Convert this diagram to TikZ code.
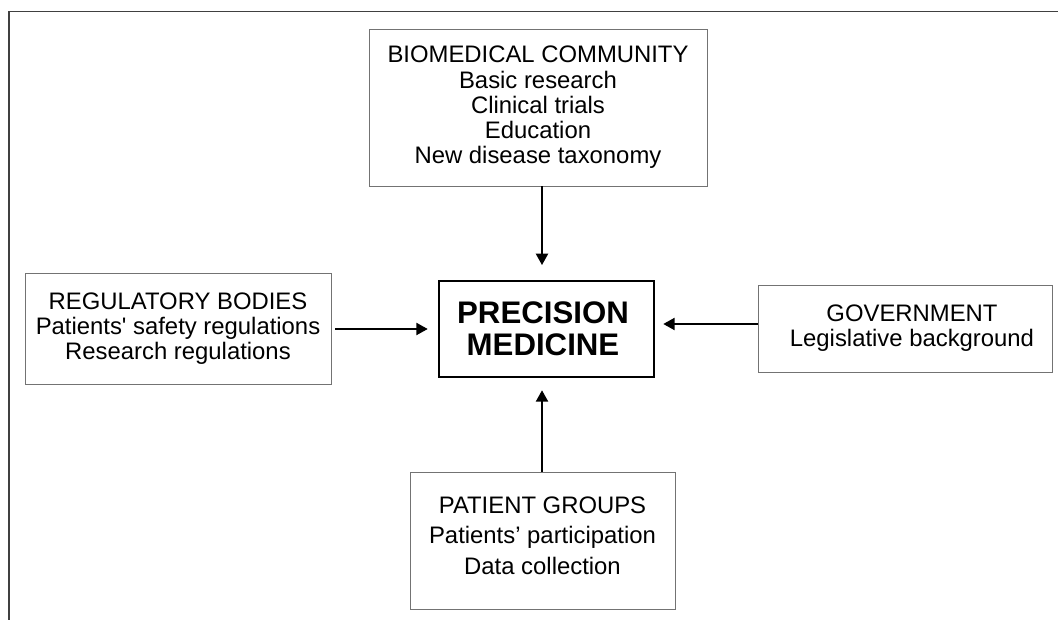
\documentclass[tikz,border=0pt]{standalone}
\usepackage{fontspec}
\setmainfont{Liberation Sans}
\usetikzlibrary{arrows.meta}
\begin{document}
\begin{tikzpicture}[x=0.75pt,y=-0.75pt,
  frame/.style={draw=black!75,line width=1.2pt},
  box/.style={draw=black!55,line width=0.7pt,align=center,inner sep=0pt,
    font=\fontsize{17.9}{18.9}\selectfont},
  txt/.style={align=center,inner sep=0pt,font=\fontsize{17.9}{18.9}\selectfont},
  core/.style={draw=black,line width=1.9pt,inner sep=0pt},
  coretxt/.style={align=center,inner sep=0pt,
    font=\fontsize{23.4}{24}\selectfont\bfseries},
  arr/.style={line width=1.5pt,-{Triangle[length=8.5pt,width=9pt]}}]
  \useasboundingbox (0,0) rectangle (1058,620);
  % outer frame (top and left edges)
  \draw[frame] (9,620) -- (9,11.5) -- (1058,11.5);

  \node[box,minimum width=338*0.75pt,minimum height=157*0.75pt] (bio) at (538,107.5)
    {BIOMEDICAL COMMUNITY\\Basic research\\Clinical trials\\Education\\New disease taxonomy};

  \node[core,minimum width=215*0.75pt,minimum height=96*0.75pt] (pm) at (546.5,329) {};
  \node[coretxt] (pmtxt) at (543,329) {PRECISION\\MEDICINE};

  \node[box,minimum width=306*0.75pt,minimum height=111*0.75pt] (reg) at (178,328.5)
    {REGULATORY BODIES\\Patients\textquotesingle{} safety regulations\\Research regulations};

  \node[box,minimum width=294*0.75pt,minimum height=87*0.75pt] (gov) at (905,328.5) {};
  \node[txt] (govtxt) at (912,328.5) {GOVERNMENT\\Legislative background};

  \node[box,minimum width=265*0.75pt,minimum height=137*0.75pt] (pat) at (542.5,540.5) {};
  \node[txt,font=\fontsize{17.9}{23}\selectfont] (pattxt) at (542.5,535.5)
    {PATIENT GROUPS\\Patients’ participation\\Data collection};

  \coordinate (vx) at (542,0);
  \coordinate (ly) at (0,329);
  \coordinate (ry) at (0,324);
  \draw[arr,shorten >=11pt] (bio.south -| vx) -- (pm.north -| vx);
  \draw[arr,shorten >=9pt] (pat.north -| vx) -- (pm.south -| vx);
  \draw[arr,shorten <=3pt,shorten >=7.5pt] (reg.east |- ly) -- (pm.west |- ly);
  \draw[arr,shorten >=6pt] (gov.west |- ry) -- (pm.east |- ry);
\end{tikzpicture}
\end{document}
